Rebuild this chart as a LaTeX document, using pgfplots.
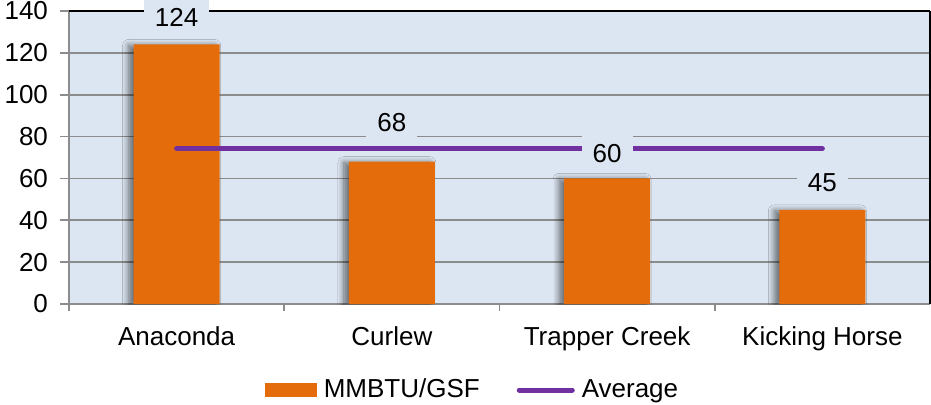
\documentclass[border=0pt]{standalone}
\usepackage{fontspec}
\setmainfont{Liberation Sans}
\usepackage{pgfplots}
\usepackage{pgfplotstable}
\pgfplotsset{compat=1.18}
\usetikzlibrary{shadows.blur}

\definecolor{barorange}{HTML}{E46C0A}
\definecolor{avgpurple}{HTML}{7030A0}
\definecolor{plotbg}{HTML}{DCE6F2}
\definecolor{gridgray}{HTML}{8C8C8C}

% x = category index, y = MMBTU/GSF, off = label offset above bar top (pt)
\pgfplotstableread{
x y off
0 124 13.5
1 68 19.5
2 60 12.5
3 45 13.5
}\sites

\newcommand{\chartfont}{\fontsize{13}{15}\selectfont}

\begin{document}
\begin{tikzpicture}
\useasboundingbox (-34.5pt,-50pt) rectangle (431pt,152pt);
\begin{axis}[
    at={(0,0)}, anchor=south west,
    width=430.5pt, height=146.5pt, scale only axis,
    xmin=-0.5, xmax=3.5, ymin=0, ymax=140,
    axis x line*=bottom, axis y line*=left,
    axis background/.style={fill=plotbg},
    axis line style={-, gridgray, line width=0.8pt},
    ytick={0,20,...,120},
    ymajorgrids,
    major grid style={gridgray, line width=0.8pt},
    % top and right frame lines are black in the original, kept behind the labels
    extra y ticks={140},
    extra y tick style={major grid style={black, line width=0.8pt}},
    extra x ticks={3.5},
    extra x tick labels={},
    extra x tick style={xmajorgrids=true, major grid style={black, line width=0.8pt},
        major tick length=3.5pt, x tick style={gridgray, line width=0.8pt}},
    xtick={0,1,2,3},
    xticklabels={Anaconda,Curlew,Trapper Creek,Kicking Horse},
    major x tick style={draw=none},
    minor xtick={-0.5,0.5,1.5,2.5},
    minor x tick style={gridgray, line width=0.8pt},
    minor tick length=3.5pt,
    major tick length=4.5pt,
    tick align=outside,
    y tick style={gridgray, line width=0.8pt},
    tick label style={font=\chartfont},
    yticklabel style={xshift=-2.5pt},
    xticklabel style={yshift=-3.5pt},
    /pgf/number format/assume math mode=true,
    legend style={at={(0.4715,-0.2935)}, anchor=center, draw=none, fill=none,
        legend columns=2, font=\chartfont,
        nodes={inner xsep=3.5pt},
        /tikz/every even column/.append style={column sep=15pt}},
]

\addplot[ybar, bar width=43pt, fill=barorange, draw=none,
    blur shadow={shadow xshift=-2.5pt, shadow yshift=-0.5pt, shadow blur radius=3pt,
        shadow blur steps=12, shadow opacity=55},
    legend image code/.code={%
        \pgfpathrectangle{\pgfpoint{0pt}{-3.5pt}}{\pgfpoint{26pt}{7pt}}%
        \pgfsetfillcolor{barorange}\pgfusepath{fill}}]
    table[x=x, y=y] {\sites};
\addlegendentry{MMBTU/GSF}

\addplot[avgpurple, line width=2.5pt, line cap=round, mark=none,
    legend image code/.code={\draw[avgpurple, line width=2.5pt, line cap=round] (1pt,0) -- (27.5pt,0);}]
    coordinates {(0,74.25) (3,74.25)};
\addlegendentry{Average}

% data labels, drawn last so they sit over the average line
\addplot[draw=none, mark=none, forget plot,
    nodes near coords,
    visualization depends on={\thisrow{off} \as \labeloff},
    every node near coord/.append style={anchor=center, yshift=\labeloff pt,
        fill=plotbg, inner xsep=5.5pt, inner ysep=4pt, font=\chartfont}]
    table[x=x, y=y] {\sites};

\end{axis}
\end{tikzpicture}
\end{document}
